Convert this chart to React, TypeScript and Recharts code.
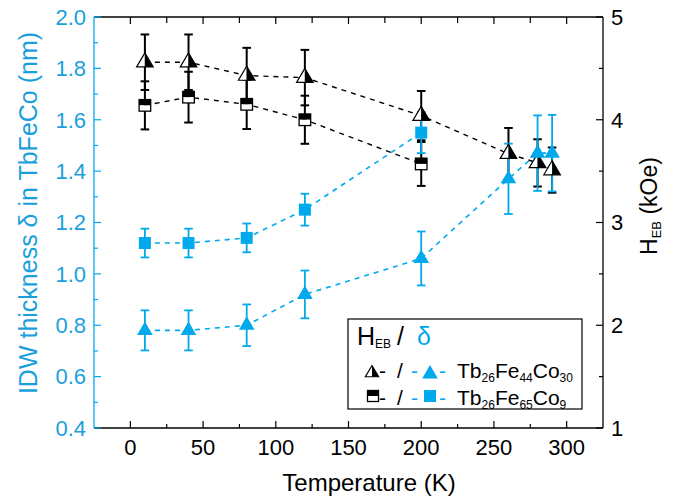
import { ScatterChart, Scatter, XAxis, YAxis, ErrorBar } from 'recharts';

const BLUE = '#00a9ec';
const BLUE_TEXT = '#1a9fdc';
const FONT = '"Liberation Sans", Arial, sans-serif';

// Tb26Fe44Co30 (triangles)
const tempA = [10, 40, 80, 120, 200, 260, 280, 290];
const hebA = [4.56, 4.56, 4.43, 4.41, 4.04, 3.67, 3.58, 3.51];
const hebAErr = [0.27, 0.27, 0.27, 0.27, 0.24, 0.25, 0.23, 0.22];
const deltaA = [0.78, 0.78, 0.8, 0.92, 1.06, 1.37, 1.47, 1.47];
const deltaAErr = [0.078, 0.078, 0.081, 0.093, 0.105, 0.137, 0.147, 0.149];

// Tb26Fe65Co9 (squares)
const tempB = [10, 40, 80, 120, 200];
const hebB = [4.14, 4.22, 4.15, 4.0, 3.57];
const hebBErr = [0.234, 0.247, 0.24, 0.234, 0.214];
const deltaB = [1.12, 1.12, 1.14, 1.25, 1.55];
const deltaBErr = [0.056, 0.056, 0.056, 0.062, 0.08];

const xTicks = [0, 25, 50, 75, 100, 125, 150, 175, 200, 225, 250, 275, 300];
const leftTicks = [0.4, 0.5, 0.6, 0.7, 0.8, 0.9, 1.0, 1.1, 1.2, 1.3, 1.4, 1.5, 1.6, 1.7, 1.8, 1.9, 2.0];
const rightTicks = [1, 1.5, 2, 2.5, 3, 3.5, 4, 4.5, 5];

const rows = (t: number[], v: number[], e: number[]) => t.map((x, i) => ({ t: x, v: v[i], e: e[i] }));
const hebARows = rows(tempA, hebA, hebAErr);
const hebBRows = rows(tempB, hebB, hebBErr);
const deltaARows = rows(tempA, deltaA, deltaAErr);
const deltaBRows = rows(tempB, deltaB, deltaBErr);

const MARGIN = 8;

// markers
const HalfTriangle = ({ cx, cy, s = 1 }: any) => {
  const top = cy - 9.3 * s, bot = cy + 4.7 * s, hw = 8.3 * s;
  return (
    <g>
      <polygon points={`${cx},${top} ${cx - hw},${bot} ${cx},${bot}`} fill="#fff" />
      <polygon points={`${cx},${top} ${cx},${bot} ${cx + hw},${bot}`} fill="#000" />
      <polygon points={`${cx},${top} ${cx - hw},${bot} ${cx + hw},${bot}`} fill="none" stroke="#000" strokeWidth={1.2} />
    </g>
  );
};

const HalfSquare = ({ cx, cy, s = 1 }: any) => {
  const h = 5.8 * s;
  return (
    <g>
      <rect x={cx - h} y={cy - h} width={2 * h} height={h} fill="#000" />
      <rect x={cx - h} y={cy} width={2 * h} height={h} fill="#fff" />
      <rect x={cx - h} y={cy - h} width={2 * h} height={2 * h} fill="none" stroke="#000" strokeWidth={1.3} />
    </g>
  );
};

const BlueTriangle = ({ cx, cy }: any) => (
  <polygon points={`${cx},${cy - 8.9} ${cx - 7.8},${cy + 4.5} ${cx + 7.8},${cy + 4.5}`} fill={BLUE} />
);

const BlueSquare = ({ cx, cy }: any) => <rect x={cx - 6} y={cy - 6} width={12} height={12} fill={BLUE} />;

// ticks drawn inward
const LeftTick = ({ x, y, payload }: any) => {
  const v = payload.value;
  const major = Math.round(v * 10) % 2 === 0;
  const ax = x + MARGIN;
  return (
    <g>
      <line x1={ax} x2={ax + (major ? 7 : 4)} y1={y} y2={y} stroke={BLUE} strokeWidth={1.2} />
      {major && (
        <text x={x} y={y + 7.8} textAnchor="end" fill={BLUE_TEXT} fontSize={22} fontFamily={FONT}>
          {v.toFixed(1)}
        </text>
      )}
    </g>
  );
};

const RightTick = ({ x, y, payload }: any) => {
  const v = payload.value;
  const major = Number.isInteger(v);
  const ax = x - MARGIN;
  return (
    <g>
      <line x1={ax} x2={ax - (major ? 7 : 4)} y1={y} y2={y} stroke="#000" strokeWidth={1.2} />
      {major && (
        <text x={x} y={y + 7.8} textAnchor="start" fill="#000" fontSize={22} fontFamily={FONT}>
          {v}
        </text>
      )}
    </g>
  );
};

const BottomTick = ({ x, y, payload }: any) => {
  const v = payload.value;
  const major = v % 50 === 0;
  const ay = y - MARGIN;
  return (
    <g>
      <line x1={x} x2={x} y1={ay} y2={ay - (major ? 7 : 4)} stroke="#000" strokeWidth={1.2} />
      {major && (
        <text x={x} y={ay + 27} textAnchor="middle" fill="#000" fontSize={22} fontFamily={FONT}>
          {v}
        </text>
      )}
    </g>
  );
};

const TopTick = ({ x, y, payload }: any) => {
  const major = payload.value % 50 === 0;
  const ay = y + MARGIN;
  return <line x1={x} x2={x} y1={ay} y2={ay + (major ? 7 : 6)} stroke="#000" strokeWidth={1.2} />;
};

const Legend = () => (
  <svg width={679} height={502} style={{ position: 'absolute', left: 0, top: 0, pointerEvents: 'none' }}>
    <rect x={348} y={319} width={234} height={90} fill="#fff" stroke="#000" strokeWidth={1.2} />
    <text y={345} fontSize={25} fontFamily={FONT} fill="#000">
      <tspan x={357}>H</tspan>
      <tspan fontSize={12} dy={3}>EB</tspan>
      <tspan x={397} dy={-3}>/</tspan>
      <tspan x={417} fill={BLUE}>δ</tspan>
    </text>
    <HalfTriangle cx={372} cy={373} s={0.8} />
    <text y={378} fontSize={21} fontFamily={FONT} fill="#000">
      <tspan x={379}>-</tspan>
      <tspan x={397}>/</tspan>
      <tspan x={411} fill={BLUE}>-</tspan>
      <tspan x={439} fill={BLUE}>-</tspan>
    </text>
    <BlueTriangle cx={430} cy={374} />
    <text x={457} y={378} fontSize={21} fontFamily={FONT} fill="#000">
      Tb<tspan fontSize={12} dy={4}>26</tspan>
      <tspan dy={-4}>Fe</tspan>
      <tspan fontSize={12} dy={4}>44</tspan>
      <tspan dy={-4}>Co</tspan>
      <tspan fontSize={12} dy={4}>30</tspan>
    </text>
    <HalfSquare cx={373} cy={396} s={0.95} />
    <text y={405} fontSize={21} fontFamily={FONT} fill="#000">
      <tspan x={379}>-</tspan>
      <tspan x={397}>/</tspan>
      <tspan x={411} fill={BLUE}>-</tspan>
      <tspan x={439} fill={BLUE}>-</tspan>
    </text>
    <BlueSquare cx={430} cy={396} />
    <text x={457} y={405} fontSize={21} fontFamily={FONT} fill="#000">
      Tb<tspan fontSize={12} dy={4}>26</tspan>
      <tspan dy={-4}>Fe</tspan>
      <tspan fontSize={12} dy={4}>65</tspan>
      <tspan dy={-4}>Co</tspan>
      <tspan fontSize={12} dy={4}>9</tspan>
    </text>
  </svg>
);

const blackLine = { stroke: '#000', strokeWidth: 1.4, strokeDasharray: '5 5' };
const blueLine = { stroke: BLUE, strokeWidth: 1.6, strokeDasharray: '5 5' };

export default function App() {
  return (
    <div style={{ position: 'fixed', left: 0, top: 0, width: 679, height: 502, background: '#fff' }}>
      <ScatterChart width={679} height={502} margin={{ top: 0, right: 0, bottom: 0, left: 0 }}>
        <XAxis
          dataKey="t"
          type="number"
          domain={[-25, 325]}
          allowDataOverflow
          ticks={xTicks}
          interval={0}
          height={74}
          tickSize={0}
          tickMargin={MARGIN}
          tickLine={false}
          axisLine={{ stroke: '#000', strokeWidth: 1.3 }}
          tick={<BottomTick />}
          label={{
            content: () => (
              <text x={369} y={491} textAnchor="middle" fontSize={24} fontFamily={FONT} fill="#000">
                Temperature (K)
              </text>
            ),
          }}
        />
        <XAxis
          xAxisId="top"
          orientation="top"
          dataKey="t"
          type="number"
          domain={[-25, 325]}
          allowDataOverflow
          ticks={xTicks}
          interval={0}
          height={17}
          tickSize={0}
          tickMargin={MARGIN}
          tickLine={false}
          axisLine={{ stroke: '#000', strokeWidth: 1.3 }}
          tick={<TopTick />}
        />
        <YAxis
          yAxisId="left"
          dataKey="v"
          type="number"
          domain={[0.4, 2.0]}
          allowDataOverflow
          ticks={leftTicks}
          interval={0}
          width={94}
          tickSize={0}
          tickMargin={MARGIN}
          tickLine={false}
          axisLine={{ stroke: BLUE, strokeWidth: 1.3 }}
          tick={<LeftTick />}
          label={{
            content: () => (
              <text
                transform="translate(36.5,213) rotate(-90)"
                textAnchor="middle"
                fontSize={25}
                fontFamily={FONT}
                fill={BLUE_TEXT}
              >
                IDW thickness δ in TbFeCo (nm)
              </text>
            ),
          }}
        />
        <YAxis
          yAxisId="right"
          orientation="right"
          dataKey="v"
          type="number"
          domain={[1, 5]}
          allowDataOverflow
          ticks={rightTicks}
          interval={0}
          width={76}
          tickSize={0}
          tickMargin={MARGIN}
          tickLine={false}
          axisLine={{ stroke: '#000', strokeWidth: 1.3 }}
          tick={<RightTick />}
          label={{
            content: () => (
              <text transform="translate(657,206) rotate(-90)" textAnchor="middle" fontSize={23} fontFamily={FONT} fill="#000">
                H<tspan fontSize={13} dy={4}>EB</tspan>
                <tspan dy={-4}> (kOe)</tspan>
              </text>
            ),
          }}
        />
        <Scatter
          data={hebARows}
          yAxisId="right"
          shape={<HalfTriangle />}
          line={blackLine}
          lineType="joint"
          isAnimationActive={false}
        >
          <ErrorBar dataKey="e" direction="y" width={4.3} stroke="#000" strokeWidth={2} />
        </Scatter>
        <Scatter
          data={hebBRows}
          yAxisId="right"
          shape={<HalfSquare />}
          line={blackLine}
          lineType="joint"
          isAnimationActive={false}
        >
          <ErrorBar dataKey="e" direction="y" width={4.3} stroke="#000" strokeWidth={2} />
        </Scatter>
        <Scatter
          data={deltaBRows}
          yAxisId="left"
          shape={<BlueSquare />}
          line={blueLine}
          lineType="joint"
          isAnimationActive={false}
        >
          <ErrorBar dataKey="e" direction="y" width={4.3} stroke={BLUE} strokeWidth={1.8} />
        </Scatter>
        <Scatter
          data={deltaARows}
          yAxisId="left"
          shape={<BlueTriangle />}
          line={blueLine}
          lineType="joint"
          isAnimationActive={false}
        >
          <ErrorBar dataKey="e" direction="y" width={4.3} stroke={BLUE} strokeWidth={1.8} />
        </Scatter>
      </ScatterChart>
      <Legend />
    </div>
  );
}
